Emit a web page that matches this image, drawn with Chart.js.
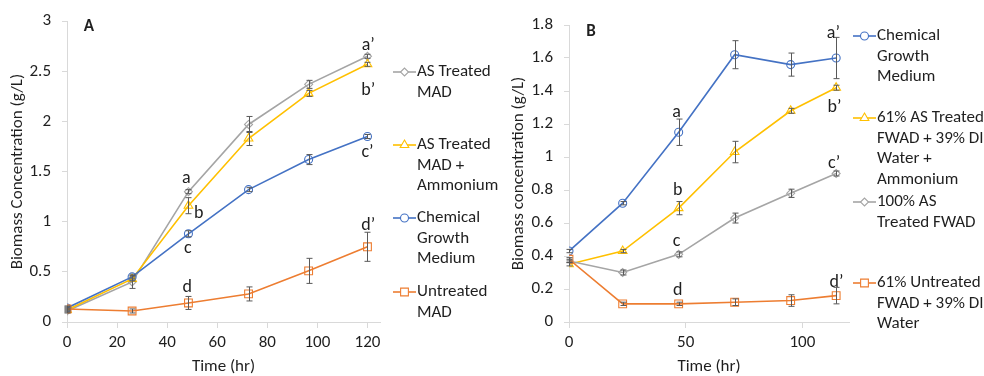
<!DOCTYPE html>
<html>
<head>
<meta charset="utf-8">
<script src="https://cdn.jsdelivr.net/npm/chart.js@4/dist/chart.umd.min.js"></script>
<style>
  body { margin: 0; background: #fff; }
  #wrap { position: relative; width: 984px; height: 376px; overflow: hidden; }
  .panel { position: absolute; top: 0; height: 376px; }
  #panel-a { left: 0; width: 500px; }
  #panel-b { left: 500px; width: 484px; }
</style>
</head>
<body>
<div id="wrap">
  <div class="panel" id="panel-a"><canvas id="chart-a"></canvas></div>
  <div class="panel" id="panel-b"><canvas id="chart-b"></canvas></div>
</div>
<script>
// Panel A data
const timeA = [0, 26, 48.5, 72.5, 96.5, 120];
const asTreatedMad = [0.11, 0.40, 1.30, 1.97, 2.37, 2.65];
const asTreatedMadErr = [0.02, 0.065, 0.02, 0.08, 0.04, 0.02];
const asTreatedMadNh4 = [0.12, 0.43, 1.16, 1.83, 2.28, 2.57];
const asTreatedMadNh4Err = [0.02, 0.02, 0.08, 0.07, 0.03, 0.02];
const chemicalA = [0.14, 0.45, 0.88, 1.32, 1.62, 1.85];
const chemicalAErr = [0.02, 0.02, 0.03, 0.02, 0.05, 0.02];
const untreatedMad = [0.13, 0.11, 0.19, 0.28, 0.51, 0.75];
const untreatedMadErr = [0.02, 0.02, 0.065, 0.07, 0.125, 0.145];
const ticksA = [0, 20, 40, 60, 80, 100, 120];

// Panel B data
const timeB = [0, 23, 47, 71, 95, 114.5];
const chemicalB = [0.43, 0.72, 1.15, 1.62, 1.56, 1.60];
const chemicalBErr = [0.01, 0.01, 0.08, 0.085, 0.07, 0.125];
const fwadNh4 = [0.35, 0.43, 0.69, 1.03, 1.28, 1.42];
const fwadNh4Err = [0.01, 0.01, 0.04, 0.065, 0.015, 0.015];
const fwad100 = [0.37, 0.30, 0.41, 0.63, 0.78, 0.90];
const fwad100Err = [0.01, 0.015, 0.015, 0.03, 0.025, 0.015];
const untreatedFwad = [0.38, 0.11, 0.11, 0.12, 0.13, 0.16];
const untreatedFwadErr = [0.01, 0.01, 0.01, 0.02, 0.035, 0.05];
const ticksB = [0, 50, 100];

// Significance letters
const lettersA = [
  { text: 'a', x: 47.6, y: 1.43 }, { text: 'b', x: 52.6, y: 1.08 },
  { text: 'c', x: 48.2, y: 0.73 }, { text: 'd', x: 48, y: 0.34 },
  { text: 'a’', x: 120.3, y: 2.76 }, { text: 'b’', x: 120.3, y: 2.31 },
  { text: 'c’', x: 120, y: 1.69 }, { text: 'd’', x: 120.3, y: 0.96 },
];
const lettersB = [
  { text: 'a', x: 46.1, y: 1.27 }, { text: 'b', x: 46.6, y: 0.80 },
  { text: 'c', x: 46.1, y: 0.49 }, { text: 'd', x: 46.6, y: 0.19 },
  { text: 'a’', x: 113.3, y: 1.75 }, { text: 'b’', x: 113.8, y: 1.30 },
  { text: 'c’', x: 113.6, y: 0.96 }, { text: 'd’', x: 114.6, y: 0.24 },
];

const FONT = 'Carlito, Lato, "Open Sans", sans-serif';
const TEXT = '#1f1f1f';
const AXIS = '#d9d9d9';
const BLUE = '#4472c4';
const ORANGE = '#ed7d31';
const GRAY = '#a5a5a5';
const YELLOW = '#ffc000';

/**
 * Builds a line dataset with hollow markers and error values.
 */
function series(label, xs, ys, errs, color, pointStyle, radius) {
  return {
    label: label,
    data: xs.map((x, i) => ({ x: x, y: ys[i] })),
    errors: errs,
    borderColor: color,
    borderWidth: 1.6,
    pointStyle: pointStyle,
    pointRadius: radius,
    pointHoverRadius: radius,
    pointBorderColor: color,
    pointBorderWidth: 1.1,
    pointBackgroundColor: 'rgba(0,0,0,0)',
    tension: 0,
  };
}

// Error bars drawn on top of the markers
const errorBarPlugin = {
  id: 'errorBars',
  afterDatasetsDraw(chart) {
    const { ctx, scales: { x, y } } = chart;
    ctx.save();
    ctx.strokeStyle = '#595959';
    ctx.lineWidth = 1;
    chart.data.datasets.forEach((ds) => {
      ds.data.forEach((pt, i) => {
        const e = ds.errors[i];
        const px = Math.round(x.getPixelForValue(pt.x)) + 0.5;
        const top = y.getPixelForValue(pt.y + e);
        const bot = y.getPixelForValue(pt.y - e);
        ctx.beginPath();
        ctx.moveTo(px, top);
        ctx.lineTo(px, bot);
        ctx.moveTo(px - 3, top);
        ctx.lineTo(px + 3, top);
        ctx.moveTo(px - 3, bot);
        ctx.lineTo(px + 3, bot);
        ctx.stroke();
      });
    });
    ctx.restore();
  },
};

// Letters and the panel tag
const lettersPlugin = {
  id: 'letters',
  afterDraw(chart, args, opts) {
    const { ctx, scales: { x, y } } = chart;
    ctx.save();
    ctx.fillStyle = TEXT;
    ctx.textAlign = 'center';
    ctx.textBaseline = 'middle';
    ctx.font = '18px ' + FONT;
    (opts.items || []).forEach((l) => {
      ctx.fillText(l.text, x.getPixelForValue(l.x), y.getPixelForValue(l.y));
    });
    if (opts.tag) {
      ctx.font = 'bold 17px ' + FONT;
      ctx.fillText(opts.tag.text, opts.tag.left, opts.tag.top);
    }
    ctx.restore();
  },
};

// Multi-line legend at the right of each panel
const sideLegendPlugin = {
  id: 'sideLegend',
  afterDraw(chart, args, opts) {
    const { ctx } = chart;
    const lineH = opts.lineHeight || 20;
    ctx.save();
    ctx.font = '17px ' + FONT;
    ctx.textBaseline = 'middle';
    ctx.textAlign = 'left';
    opts.items.forEach((item) => {
      const ds = chart.data.datasets[item.index];
      const y0 = item.top;
      ctx.strokeStyle = ds.borderColor;
      ctx.lineWidth = 1.6;
      ctx.beginPath();
      ctx.moveTo(opts.left, y0);
      ctx.lineTo(opts.left + 23, y0);
      ctx.stroke();
      ctx.lineWidth = 1.1;
      ctx.fillStyle = '#ffffff';
      Chart.helpers.drawPoint(ctx, {
        pointStyle: ds.pointStyle,
        radius: ds.pointRadius,
        rotation: 0,
        borderWidth: 1.1,
      }, opts.left + 11.5, y0);
      ctx.fillStyle = TEXT;
      item.lines.forEach((t, k) => {
        ctx.fillText(t, opts.left + 24, y0 + k * lineH);
      });
    });
    ctx.restore();
  },
};

/**
 * Common options for one panel.
 */
function panelOptions(p) {
  return {
    animation: false,
    responsive: true,
    maintainAspectRatio: false,
    layout: { padding: { left: 0, top: p.top, right: p.right, bottom: 0 } },
    plugins: {
      legend: { display: false },
      tooltip: { enabled: false },
      letters: { items: p.letters, tag: p.tag },
      sideLegend: { left: p.legendLeft, lineHeight: 20.5, items: p.legend },
    },
    scales: {
      x: {
        type: 'linear',
        min: 0,
        max: p.xMax,
        afterFit: (s) => { s.height = 54; },
        afterBuildTicks: (s) => { s.ticks = p.xTicks.map((v) => ({ value: v })); },
        grid: { drawOnChartArea: false, color: AXIS, tickLength: 6 },
        border: { color: AXIS, width: 1 },
        ticks: { color: TEXT, font: { family: FONT, size: 17 }, padding: 5, maxRotation: 0 },
        title: {
          display: true, text: 'Time (hr)', color: TEXT,
          font: { family: FONT, size: 17, lineHeight: 1.2 }, padding: { top: 0, bottom: -1 },
        },
      },
      y: {
        min: 0,
        max: p.yMax,
        afterFit: (s) => { s.width = p.yWidth; },
        grid: { drawOnChartArea: false, color: AXIS, tickLength: 5 },
        border: { color: AXIS, width: 1 },
        ticks: {
          stepSize: p.yStep,
          color: TEXT,
          font: { family: FONT, size: 17 },
          padding: 11,
          callback: (v) => String(+v.toFixed(2)),
        },
        title: {
          display: true, text: p.yTitle, color: TEXT,
          font: { family: FONT, size: 17, lineHeight: 1.2 }, padding: { top: p.yTitlePad, bottom: 0 },
        },
      },
    },
  };
}

function initCharts() {
  new Chart(document.getElementById('chart-a'), {
    type: 'line',
    data: {
      datasets: [
        series('Untreated MAD', timeA, untreatedMad, untreatedMadErr, ORANGE, 'rect', 5.5),
        series('Chemical Growth Medium', timeA, chemicalA, chemicalAErr, BLUE, 'circle', 4),
        series('AS Treated MAD + Ammonium', timeA, asTreatedMadNh4, asTreatedMadNh4Err, YELLOW, 'triangle', 5),
        series('AS Treated MAD', timeA, asTreatedMad, asTreatedMadErr, GRAY, 'rectRot', 4),
      ],
    },
    options: panelOptions({
      top: 20, right: 120, xMax: 125, xTicks: ticksA, yMax: 3, yStep: 0.5, yWidth: 67,
      yTitle: 'Biomass Concentration (g/L)', yTitlePad: 8,
      letters: lettersA, tag: { text: 'A', left: 89, top: 27 },
      legendLeft: 393,
      legend: [
        { index: 3, top: 72, lines: ['AS Treated', 'MAD'] },
        { index: 2, top: 145, lines: ['AS Treated', 'MAD +', 'Ammonium'] },
        { index: 1, top: 218, lines: ['Chemical', 'Growth', 'Medium'] },
        { index: 0, top: 292, lines: ['Untreated', 'MAD'] },
      ],
    }),
    plugins: [errorBarPlugin, lettersPlugin, sideLegendPlugin],
  });

  new Chart(document.getElementById('chart-b'), {
    type: 'line',
    data: {
      datasets: [
        series('61% Untreated FWAD + 39% DI Water', timeB, untreatedFwad, untreatedFwadErr, ORANGE, 'rect', 5.5),
        series('100% AS Treated FWAD', timeB, fwad100, fwad100Err, GRAY, 'rectRot', 4),
        series('61% AS Treated FWAD + 39% DI Water + Ammonium', timeB, fwadNh4, fwadNh4Err, YELLOW, 'triangle', 5),
        series('Chemical Growth Medium', timeB, chemicalB, chemicalBErr, BLUE, 'circle', 4),
      ],
    },
    options: panelOptions({
      top: 25, right: 135, xMax: 120, xTicks: ticksB, yMax: 1.8, yStep: 0.2, yWidth: 69,
      yTitle: 'Biomass concentration (g/L)', yTitlePad: 9,
      letters: lettersB, tag: { text: 'B', left: 91, top: 32 },
      legendLeft: 353,
      legend: [
        { index: 3, top: 36, lines: ['Chemical', 'Growth', 'Medium'] },
        { index: 2, top: 118, lines: ['61% AS Treated', 'FWAD + 39% DI', 'Water +', 'Ammonium'] },
        { index: 1, top: 202, lines: ['100% AS', 'Treated FWAD'] },
        { index: 0, top: 283, lines: ['61% Untreated', 'FWAD + 39% DI', 'Water'] },
      ],
    }),
    plugins: [errorBarPlugin, lettersPlugin, sideLegendPlugin],
  });
}

initCharts();
</script>
</body>
</html>
